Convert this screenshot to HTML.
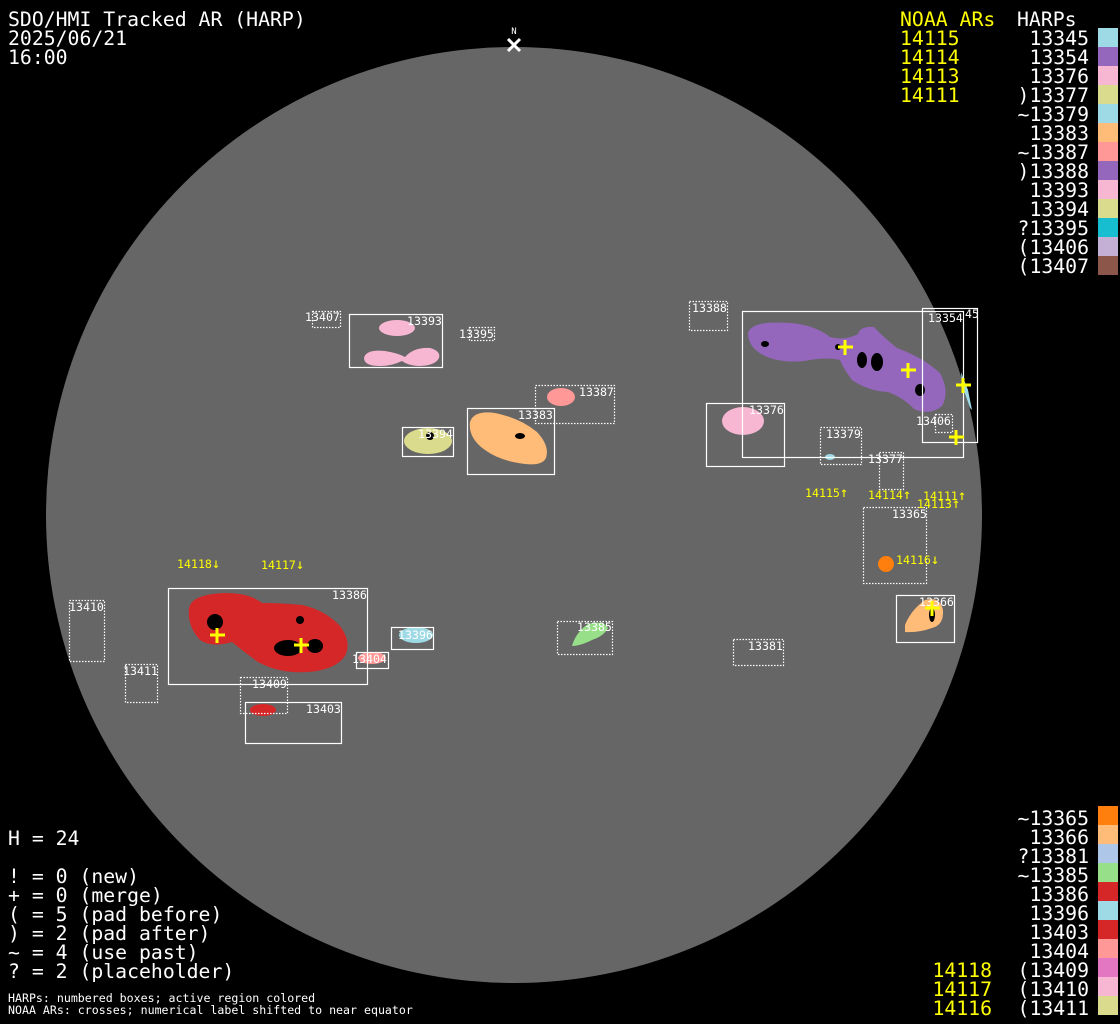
<!DOCTYPE html>
<html><head><style>
html,body{margin:0;padding:0;background:#000;}
svg{display:block;font-family:"DejaVu Sans Mono","Liberation Mono",monospace;}
</style></head><body>
<svg width="1120" height="1024" viewBox="0 0 1120 1024" xmlns="http://www.w3.org/2000/svg">
<rect width="1120" height="1024" fill="#000"/>
<circle cx="514" cy="515" r="468" fill="#666"/>
<text x="514" y="34" fill="#fff" font-size="9" text-anchor="middle">N</text>
<path d="M508 39 L520 51 M520 39 L508 51" stroke="#fff" stroke-width="3"/>

<g fill="#fff" font-size="19.8">
<text x="8" y="26">SDO/HMI Tracked AR (HARP)</text>
<text x="8" y="45">2025/06/21</text>
<text x="8" y="64">16:00</text>
</g>

<g>
<ellipse cx="397" cy="328" rx="18" ry="8" fill="#f7b6d2"/>
<path d="M364 358 Q366 349 385 351 Q398 353 405 357 Q414 347 430 348 Q441 351 439 358 Q435 366 418 366 Q407 365 402 361 Q392 366 380 366 Q364 366 364 358Z" fill="#f7b6d2"/>
<ellipse cx="561" cy="397" rx="14" ry="9" fill="#ff9896"/>
<path d="M470 422 Q474 410 495 413 Q520 418 537 432 Q550 446 546 458 Q542 466 525 464 Q500 461 485 450 Q468 438 470 422Z" fill="#ffbb78"/>
<ellipse cx="428" cy="441" rx="24" ry="13" fill="#dbdb8d"/>
<path d="M748 333 Q752 320 790 323 Q815 325 830 337 Q845 341 858 334 Q860 326 874 327 Q882 336 897 348 Q922 357 940 373 Q950 392 942 406 Q930 416 914 409 Q904 398 888 392 Q868 391 852 380 Q843 368 840 360 Q828 357 810 360 Q788 364 770 358 Q748 350 748 333Z" fill="#9467bd"/>
<ellipse cx="743" cy="421" rx="21" ry="14" fill="#f7b6d2"/>
<ellipse cx="830" cy="457" rx="5" ry="3" fill="#9edae5"/>
<path d="M961 372 L968 390 L972 410 L970 408 L962 385Z" fill="#9edae5"/>
<circle cx="886" cy="564" r="8" fill="#ff7f0e"/>
<path d="M905 625 Q911 610 925 600 Q940 596 943 610 Q944 625 932 628 Q918 633 905 632Z" fill="#ffbb78"/>
<path d="M572 646 Q576 632 588 624 Q604 620 608 628 Q604 636 592 640 Q580 646 572 646Z" fill="#98df8a"/>
<ellipse cx="416" cy="635" rx="17" ry="8" fill="#9edae5"/>
<ellipse cx="372" cy="658" rx="14" ry="6" fill="#ff9896"/>
<path d="M189 608 Q192 594 225 593 Q250 593 262 603 Q282 603 302 605 Q325 610 340 626 Q352 642 345 656 Q335 670 308 672 Q280 674 258 662 Q244 652 232 642 Q212 648 200 640 Q187 626 189 608Z" fill="#d62728"/>
<ellipse cx="263" cy="710" rx="13" ry="6" fill="#d62728"/>
</g>
<g fill="#000">
<ellipse cx="215" cy="622" rx="8" ry="8"/><ellipse cx="288" cy="648" rx="14" ry="8"/><ellipse cx="315" cy="646" rx="8" ry="7"/>
<ellipse cx="300" cy="620" rx="4" ry="4"/><ellipse cx="862" cy="360" rx="5" ry="8"/><ellipse cx="877" cy="362" rx="6" ry="9"/>
<ellipse cx="838" cy="347" rx="3" ry="3"/><ellipse cx="920" cy="390" rx="5" ry="6"/><ellipse cx="932" cy="615" rx="3" ry="7"/>
<ellipse cx="520" cy="436" rx="5" ry="3"/><ellipse cx="430" cy="436" rx="4" ry="4"/><ellipse cx="765" cy="344" rx="4" ry="3"/>
</g>

<g fill="none" stroke="#fff" stroke-width="1.2">
<rect x="349.5" y="314.5" width="93" height="53"/>
<rect x="742.5" y="311.5" width="221" height="146"/>
<rect x="922.5" y="308.5" width="55" height="134"/>
<rect x="706.5" y="403.5" width="78" height="63"/>
<rect x="467.5" y="408.5" width="87" height="66"/>
<rect x="402.5" y="427.5" width="51" height="29"/>
<rect x="896.5" y="595.5" width="58" height="47"/>
<rect x="391.5" y="627.5" width="42" height="22"/>
<rect x="168.5" y="588.5" width="199" height="96"/>
<rect x="356.5" y="652.5" width="32" height="16"/>
<rect x="245.5" y="702.5" width="96" height="41"/>
</g>
<g fill="none" stroke="#fff" stroke-width="1.2" stroke-dasharray="1.5,1.5">
<rect x="312.5" y="311.5" width="28" height="16"/>
<rect x="469.5" y="327.5" width="25" height="13"/>
<rect x="689.5" y="301.5" width="38" height="29"/>
<rect x="935.5" y="414.5" width="17" height="18"/>
<rect x="820.5" y="427.5" width="41" height="37"/>
<rect x="879.5" y="452.5" width="24" height="37"/>
<rect x="535.5" y="385.5" width="79" height="38"/>
<rect x="863.5" y="507.5" width="63" height="76"/>
<rect x="733.5" y="639.5" width="50" height="26"/>
<rect x="557.5" y="621.5" width="55" height="33"/>
<rect x="240.5" y="677.5" width="47" height="36"/>
<rect x="69.5" y="600.5" width="35" height="61"/>
<rect x="125.5" y="664.5" width="32" height="38"/>
</g>

<g fill="#fff" font-size="11.6">
<text x="305" y="321">13407</text>
<text x="407" y="325">13393</text>
<text x="459" y="338">13395</text>
<text x="692" y="312">13388</text>
<text x="928" y="322">13354</text>
<text x="965" y="318">45</text>
<text x="916" y="425">13406</text>
<text x="749" y="414">13376</text>
<text x="826" y="438">13379</text>
<text x="868" y="463">13377</text>
<text x="579" y="396">13387</text>
<text x="518" y="419">13383</text>
<text x="418" y="438">13394</text>
<text x="892" y="518">13365</text>
<text x="919" y="606">13366</text>
<text x="748" y="650">13381</text>
<text x="577" y="631">13385</text>
<text x="398" y="639">13396</text>
<text x="332" y="599">13386</text>
<text x="352" y="663">13404</text>
<text x="252" y="688">13409</text>
<text x="306" y="713">13403</text>
<text x="69" y="611">13410</text>
<text x="123" y="675">13411</text>
</g>

<g stroke="#ff0" stroke-width="3">
<path d="M838 347h15M845 340v15"/>
<path d="M901 370h15M908 363v15"/>
<path d="M956 385h15M963 378v15"/>
<path d="M949 437h15M956 430v15"/>
<path d="M210 635h15M217 628v15"/>
<path d="M294 645h15M301 638v15"/>
<path d="M925 608h15M932 601v15"/>
</g>
<g fill="#ff0" font-size="11.6" font-family="'DejaVu Sans Mono',monospace">
<text x="805" y="497">14115<tspan font-size="14">↑</tspan></text>
<text x="868" y="499">14114<tspan font-size="14">↑</tspan></text>
<text x="923" y="500">14111<tspan font-size="14">↑</tspan></text>
<text x="917" y="508">14113<tspan font-size="14">↑</tspan></text>
<text x="896" y="564">14116<tspan font-size="14">↓</tspan></text>
<text x="177" y="568">14118<tspan font-size="14">↓</tspan></text>
<text x="261" y="569">14117<tspan font-size="14">↓</tspan></text>
</g>

<g font-size="19.8">
<text x="900" y="26" fill="#ff0">NOAA ARs</text>
<text x="1017" y="26" fill="#fff">HARPs</text>
<g fill="#ff0">
<text x="900" y="45">14115</text><text x="900" y="64">14114</text><text x="900" y="83">14113</text><text x="900" y="102">14111</text>
</g>
<g fill="#fff" text-anchor="end">
<text x="1089" y="45">13345</text><text x="1089" y="64">13354</text><text x="1089" y="83">13376</text>
<text x="1089" y="102">)13377</text><text x="1089" y="121">~13379</text><text x="1089" y="140">13383</text>
<text x="1089" y="159">~13387</text><text x="1089" y="178">)13388</text><text x="1089" y="197">13393</text>
<text x="1089" y="216">13394</text><text x="1089" y="235">?13395</text><text x="1089" y="254">(13406</text>
<text x="1089" y="273">(13407</text>
</g>
</g>
<g>
<rect x="1098" y="28" width="20" height="19" fill="#9edae5"/>
<rect x="1098" y="47" width="20" height="19" fill="#9467bd"/>
<rect x="1098" y="66" width="20" height="19" fill="#f7b6d2"/>
<rect x="1098" y="85" width="20" height="19" fill="#dbdb8d"/>
<rect x="1098" y="104" width="20" height="19" fill="#9edae5"/>
<rect x="1098" y="123" width="20" height="19" fill="#ffbb78"/>
<rect x="1098" y="142" width="20" height="19" fill="#ff9896"/>
<rect x="1098" y="161" width="20" height="19" fill="#9467bd"/>
<rect x="1098" y="180" width="20" height="19" fill="#f7b6d2"/>
<rect x="1098" y="199" width="20" height="19" fill="#dbdb8d"/>
<rect x="1098" y="218" width="20" height="19" fill="#17becf"/>
<rect x="1098" y="237" width="20" height="19" fill="#c5b0d5"/>
<rect x="1098" y="256" width="20" height="19" fill="#8c564b"/>
</g>

<g font-size="19.8">
<g fill="#fff" text-anchor="end">
<text x="1089" y="825">~13365</text><text x="1089" y="844">13366</text><text x="1089" y="863">?13381</text>
<text x="1089" y="882">~13385</text><text x="1089" y="901">13386</text><text x="1089" y="920">13396</text>
<text x="1089" y="939">13403</text><text x="1089" y="958">13404</text><text x="1089" y="977">(13409</text>
<text x="1089" y="996">(13410</text><text x="1089" y="1015">(13411</text>
</g>
<g fill="#ff0" text-anchor="end">
<text x="992" y="977">14118</text><text x="992" y="996">14117</text><text x="992" y="1015">14116</text>
</g>
</g>
<g>
<rect x="1098" y="806" width="20" height="19" fill="#ff7f0e"/>
<rect x="1098" y="825" width="20" height="19" fill="#ffbb78"/>
<rect x="1098" y="844" width="20" height="19" fill="#aec7e8"/>
<rect x="1098" y="863" width="20" height="19" fill="#98df8a"/>
<rect x="1098" y="882" width="20" height="19" fill="#d62728"/>
<rect x="1098" y="901" width="20" height="19" fill="#9edae5"/>
<rect x="1098" y="920" width="20" height="19" fill="#d62728"/>
<rect x="1098" y="939" width="20" height="19" fill="#ff9896"/>
<rect x="1098" y="958" width="20" height="19" fill="#e377c2"/>
<rect x="1098" y="977" width="20" height="19" fill="#f7b6d2"/>
<rect x="1098" y="996" width="20" height="19" fill="#dbdb8d"/>
</g>

<g fill="#fff" font-size="19.8">
<text x="8" y="845">H = 24</text>
<text x="8" y="883">! = 0 (new)</text>
<text x="8" y="902">+ = 0 (merge)</text>
<text x="8" y="921">( = 5 (pad before)</text>
<text x="8" y="940">) = 2 (pad after)</text>
<text x="8" y="959">~ = 4 (use past)</text>
<text x="8" y="978">? = 2 (placeholder)</text>
</g>
<g fill="#fff" font-size="11.6">
<text x="8" y="1002">HARPs: numbered boxes; active region colored</text>
<text x="8" y="1014">NOAA ARs: crosses; numerical label shifted to near equator</text>
</g>
</svg>
</body></html>
